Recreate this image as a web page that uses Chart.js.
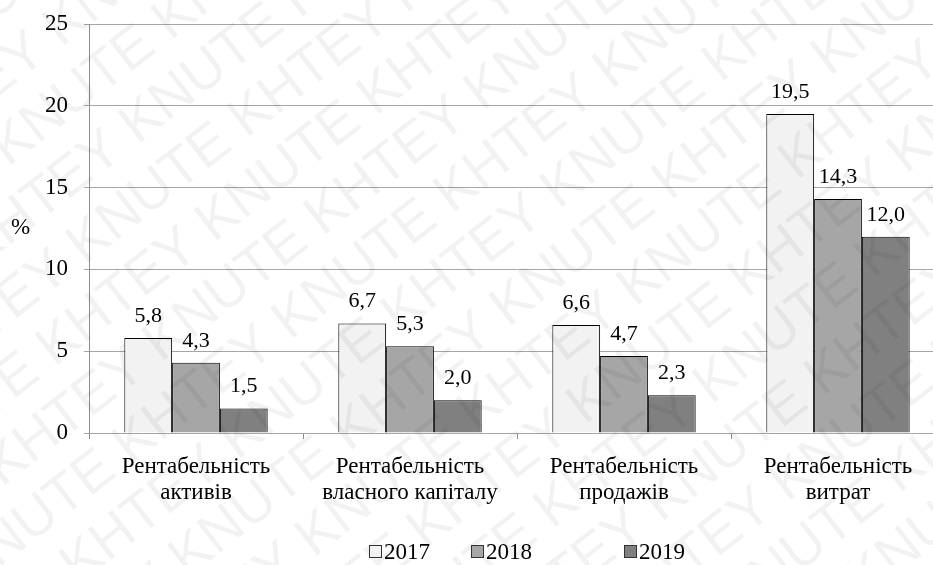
<!DOCTYPE html>
<html>
<head>
<meta charset="utf-8">
<script src="https://cdn.jsdelivr.net/npm/chart.js@4.4.1/dist/chart.umd.min.js"></script>
<style>
  html, body { margin: 0; padding: 0; background: #fff; overflow: hidden; }
  #wrap { position: relative; width: 933px; height: 565px; overflow: hidden; }
  #wrap canvas { position: absolute; left: 0; top: 0; }
  .leg { position: absolute; top: 539px; font: 23px/26px "Liberation Serif", "Times New Roman", serif; color: #000; white-space: nowrap; }
  .leg i { display: inline-block; width: 11px; height: 11px; border: 1px solid #333; margin-right: 2px; vertical-align: 1px; }
</style>
</head>
<body>
<div id="wrap">
  <canvas id="chart" width="948" height="565" style="width:948px;height:565px"></canvas>
</div>
<script>
// Data
const categories = [
    ['Рентабельність', 'активів'],
    ['Рентабельність', 'власного капіталу'],
    ['Рентабельність', 'продажів'],
    ['Рентабельність', 'витрат']
];
const years = ['2017', '2018', '2019'];
const values2017 = [5.8, 6.7, 6.6, 19.5];
const values2018 = [4.3, 5.3, 4.7, 14.3];
const values2019 = [1.5, 2.0, 2.3, 12.0];
const yTicks = [0, 5, 10, 15, 20, 25];

const fills = ['#f2f2f2', '#a6a6a6', '#808080'];
const serif = '"Liberation Serif", "Times New Roman", serif';

// value labels above the bars, decimal comma
const valueLabels = {
    id: 'valueLabels',
    afterDatasetsDraw(chart) {
        const ctx = chart.ctx;
        ctx.save();
        ctx.font = '22px ' + serif;
        ctx.fillStyle = '#000';
        ctx.textAlign = 'center';
        ctx.textBaseline = 'alphabetic';
        chart.data.datasets.forEach((ds, i) => {
            chart.getDatasetMeta(i).data.forEach((bar, j) => {
                const txt = ds.data[j].toFixed(1).replace('.', ',');
                ctx.fillText(txt, bar.x, bar.y - 16);
            });
        });
        // "%" axis label
        ctx.font = '23px ' + serif;
        ctx.textAlign = 'left';
        ctx.textBaseline = 'middle';
        ctx.fillText('%', 11, 228);
        ctx.restore();
    }
};

// faint diagonal watermark
const watermark = {
    id: 'watermark',
    afterDraw(chart) {
        const ctx = chart.ctx;
        ctx.save();
        ctx.font = '56px "Liberation Sans", Arial, sans-serif';
        ctx.fillStyle = 'rgba(0,0,0,0.05)';
        ctx.translate(466, 282);
        ctx.rotate(-38 * Math.PI / 180);
        const words = ['KHTEY', 'KNUTE'];
        for (let r = -12; r <= 12; r++) {
            let line = '';
            for (let k = 0; k < 14; k++) line += words[(k + r + 40) % 2] + ' ';
            ctx.fillText(line, -900 + (r % 2) * 90, r * 62);
        }
        ctx.restore();
    }
};

const chart = new Chart(document.getElementById('chart'), {
    type: 'bar',
    data: {
        labels: categories,
        datasets: [
            { label: years[0], data: values2017, backgroundColor: fills[0] },
            { label: years[1], data: values2018, backgroundColor: fills[1] },
            { label: years[2], data: values2019, backgroundColor: fills[2] }
        ].map(d => Object.assign(d, {
            borderColor: '#000', borderWidth: 1, borderSkipped: 'bottom',
            categoryPercentage: 0.67, barPercentage: 1.0
        }))
    },
    options: {
        responsive: false,
        animation: false,
        layout: { padding: { left: 0, right: 3, top: 24, bottom: 0 } },
        plugins: { legend: { display: false }, tooltip: { enabled: false } },
        scales: {
            x: {
                grid: { offset: true, drawOnChartArea: false, drawTicks: true, tickLength: 6, color: '#8c8c8c' },
                border: { display: false },
                ticks: { color: '#000', font: { family: serif, size: 23, lineHeight: 1.17 }, padding: 14, maxRotation: 0, autoSkip: false },
                afterFit(scale) { scale.height = 132; }
            },
            y: {
                min: 0, max: 25,
                afterBuildTicks(scale) { scale.ticks = yTicks.map(v => ({ value: v })); },
                grid: { color: '#a6a6a6', tickLength: 5, drawTicks: true },
                border: { color: '#8c8c8c' },
                ticks: { color: '#000', font: { family: serif, size: 23 }, padding: 16 },
                afterFit(scale) {
                    scale.width = 89;
                    scale.paddingTop = 0;
                    scale.paddingBottom = 0;
                }
            }
        }
    },
    plugins: [valueLabels, watermark]
});

// legend with the uneven spacing of the original
const legendX = [369, 471, 624];
chart.data.datasets.forEach((ds, i) => {
    const el = document.createElement('div');
    el.className = 'leg';
    el.style.left = legendX[i] + 'px';
    el.innerHTML = '<i style="background:' + ds.backgroundColor + '"></i>' + ds.label;
    document.getElementById('wrap').appendChild(el);
});
</script>
</body>
</html>
